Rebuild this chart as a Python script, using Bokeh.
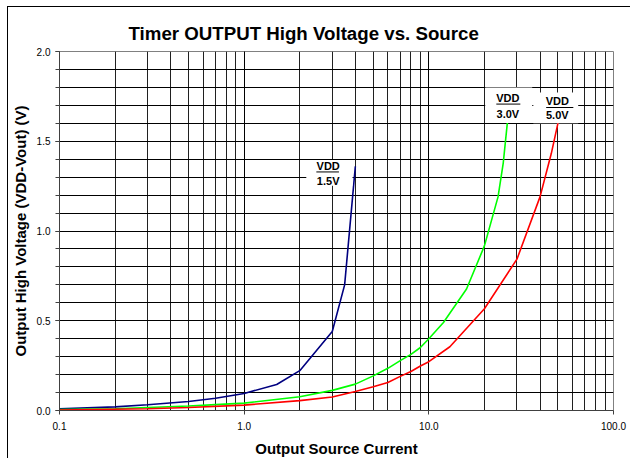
from bokeh.plotting import figure
from bokeh.models import (Range1d, SingleIntervalTicker, LogTicker, NumeralTickFormatter, Label)
from bokeh.embed import file_html
from bokeh.resources import INLINE

# ---- data ----
vdd15_x = [0.1, 0.2, 0.3, 0.5, 0.7, 1.0, 1.5, 2.0, 3.0, 3.5, 4.0]
vdd15_y = [0.01, 0.02, 0.032, 0.05, 0.068, 0.095, 0.145, 0.222, 0.44, 0.70, 1.36]

vdd30_x = [0.1, 0.2, 0.3, 0.5, 0.7, 1.0, 2.0, 3.0, 4.0, 5.0, 6.0, 7.0, 8.0, 9.0, 10.0,
           12.0, 16.0, 20.0, 23.7, 25.3, 26.6, 27.3]
vdd30_y = [0.005, 0.01, 0.017, 0.025, 0.033, 0.041, 0.077, 0.112, 0.147, 0.193, 0.235, 0.278,
           0.313, 0.351, 0.40, 0.49, 0.677, 0.917, 1.19, 1.38, 1.60, 1.72]

vdd50_x = [0.1, 0.3, 0.5, 1.0, 2.0, 3.0, 4.0, 5.0, 6.0, 7.0, 8.0, 9.0, 10.0, 13.0, 20.0,
           30.0, 40.0, 46.0, 50.0, 52.0]
vdd50_y = [0.003, 0.01, 0.017, 0.03, 0.055, 0.075, 0.106, 0.132, 0.156, 0.19, 0.217, 0.248,
           0.272, 0.355, 0.567, 0.843, 1.19, 1.43, 1.60, 1.70]

series_colors = ["#000080", "#00FF00", "#FF0000"]
label_titles = ["VDD", "VDD", "VDD"]
label_values = ["1.5V", "3.0V", "5.0V"]

title_text = "Timer OUTPUT High Voltage vs. Source"
x_title = "Output Source Current"
y_title = "Output High Voltage (VDD-Vout) (V)"

FONT = "Liberation Sans"

p = figure(width=623, height=452, x_axis_type="log",
           x_range=Range1d(0.1, 100), y_range=Range1d(0, 2),
           output_backend="svg", toolbar_location=None,
           min_border_left=50, min_border_right=18, min_border_top=44, min_border_bottom=46)
p.styles = {"border-left": "1px solid black", "border-top": "1px solid black",
            "margin-left": "7px", "margin-top": "6px"}

p.title.text = title_text
p.title.text_font = FONT
p.title.text_font_size = "18.7px"
p.title.text_font_style = "bold"
p.title.text_color = "black"
p.title.align = "left"
p.title.offset = 69
p.title.standoff = 15

p.outline_line_color = "#808080"
p.outline_line_width = 1
p.background_fill_color = "white"
p.border_fill_color = "white"

# axes
p.xaxis.ticker = LogTicker(num_minor_ticks=10)
p.xaxis.formatter = NumeralTickFormatter(format="0.0")
p.yaxis.ticker = SingleIntervalTicker(interval=0.5, num_minor_ticks=5)
p.yaxis.formatter = NumeralTickFormatter(format="0.0")
for ax in (p.xaxis[0], p.yaxis[0]):
    ax.axis_line_color = "#404040"
    ax.major_tick_line_color = "#404040"
    ax.major_tick_out = 4
    ax.major_tick_in = 0
    ax.major_label_text_font = FONT
    ax.major_label_text_font_size = "10px"
    ax.major_label_text_color = "black"
    ax.major_label_standoff = 5
    ax.axis_label_text_font = FONT
    ax.axis_label_text_font_size = "15px"
    ax.axis_label_text_font_style = "bold"
    ax.axis_label_text_color = "black"
    ax.axis_label_standoff = 5
p.xaxis.major_label_standoff = 7
p.xaxis.axis_label_standoff = 7
p.xaxis.minor_tick_line_color = None
p.yaxis.minor_tick_line_color = "#404040"
p.yaxis.minor_tick_out = 4
p.yaxis.minor_tick_in = 0
p.xaxis.axis_label = x_title
p.yaxis.axis_label = y_title

# grid
p.xgrid.ticker = LogTicker(num_minor_ticks=10)
p.xgrid.grid_line_color = "black"
p.xgrid.minor_grid_line_color = "#202020"
p.ygrid.grid_line_color = "black"
p.ygrid.minor_grid_line_color = "black"
for g in (p.xgrid[0], p.ygrid[0]):
    g.grid_line_width = 1
    g.minor_grid_line_width = 1

# curves
for xs, ys, c in ((vdd15_x, vdd15_y, series_colors[0]),
                  (vdd30_x, vdd30_y, series_colors[1]),
                  (vdd50_x, vdd50_y, series_colors[2])):
    p.line(xs, ys, line_color=c, line_width=1.6)

# label boxes (white) drawn over the curves
box_l = [2.17, 20.2, 36.8]
box_r = [3.86, 36.3, 64.4]
box_b = [1.252, 1.602, 1.600]
box_t = [1.396, 1.799, 1.771]
p.quad(left=box_l, right=box_r, bottom=box_b, top=box_t,
       fill_color="white", fill_alpha=1.0, line_color=None)

label_cx = [2.85, 26.8, 49.6]
label_y1 = [1.362, 1.742, 1.723]
label_y2 = [1.276, 1.654, 1.644]
ul_y = [1.329, 1.707, 1.688]
ul_l = [2.46, 23.2, 43.2]
ul_r = [3.26, 31.3, 60.6]
p.segment(x0=ul_l, y0=ul_y, x1=ul_r, y1=ul_y, line_color="black", line_width=1)

for i in range(3):
    p.add_layout(Label(x=label_cx[i], y=label_y1[i], text=label_titles[i], text_align="center",
                       text_baseline="middle", text_font=FONT, text_font_size="11px",
                       text_font_style="bold", text_color="black"))
    p.add_layout(Label(x=label_cx[i], y=label_y2[i], text=label_values[i], text_align="center",
                       text_baseline="middle", text_font=FONT, text_font_size="11px",
                       text_font_style="bold", text_color="black"))

open("out.html", "w").write(file_html(p, INLINE))
